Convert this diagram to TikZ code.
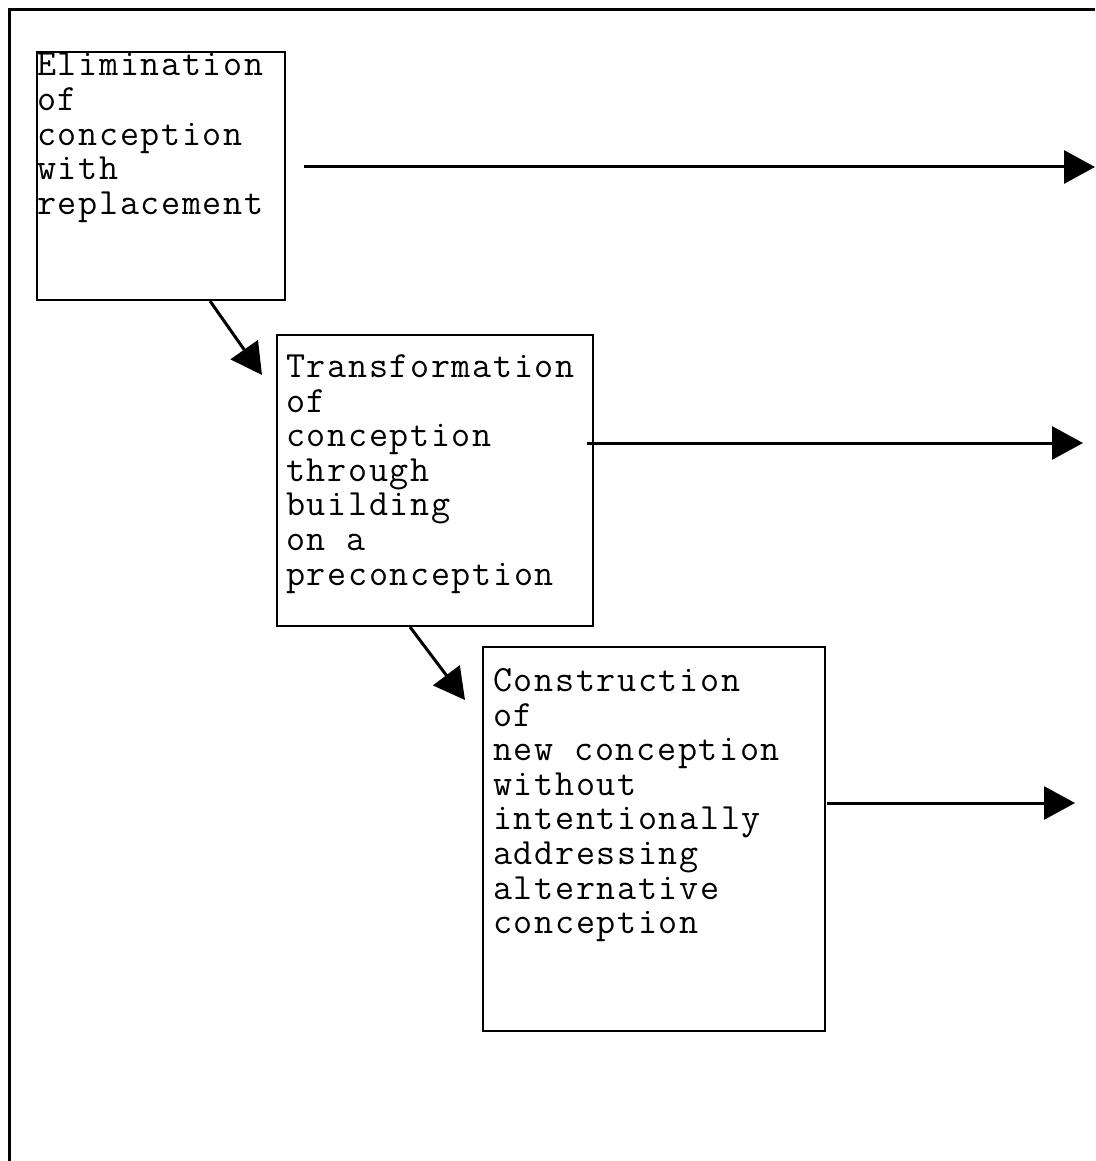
\documentclass[tikz,border=0pt]{standalone}
\usepackage{fontspec}
\setmonofont[LetterSpace=4.5]{Latin Modern Mono}
\usetikzlibrary{arrows.meta,positioning}
\tikzset{
  every picture/.style={draw=black, text=black},
  stagebox/.style={draw, line width=2pt, inner sep=0pt},
  stagetext/.style={anchor=north west, align=left, inner sep=0pt,
    font=\ttfamily\fontsize{37}{34.6}\selectfont},
  flow/.style={line width=3pt, -{Triangle[length=31pt, width=33pt]}},
}

\begin{document}
\begin{tikzpicture}[x=1pt, y=-1pt]
\useasboundingbox (0,0) rectangle (1095,1161);
% outer frame (only left and top edges show)
\draw[line width=3pt] (9.5,1161) -- (9.5,9.5) -- (1095,9.5);
% the three stages
\node[stagebox, minimum width=248pt, minimum height=248pt] (elim) at (161,176) {};
\node[stagebox, minimum width=316pt, minimum height=291pt] (trans) at (435,480.5) {};
\node[stagebox, minimum width=342pt, minimum height=384pt] (constr) at (654,839) {};
\node[stagetext] (elimtxt) at ([shift={(1,0.5)}]elim.north west)
  {\strut Elimination\\of\\conception\\with\\replacement};
\node[stagetext] (transtxt) at ([shift={(10,19)}]trans.north west)
  {\strut Transformation\\of\\conception\\through\\building\\on a\\preconception};
\node[stagetext] (constrtxt) at ([shift={(11,21)}]constr.north west)
  {\strut Construction\\of\\new conception\\without\\intentionally\\addressing\\alternative\\conception};
% free ends of the outgoing arrows
\coordinate (out1) at (1095,167);
\coordinate (out2) at (1083,443);
\coordinate (out3) at (1075,803);
\draw[flow] ([shift={(18,-9)}]elim.east) -- (out1);
\draw[flow] ([shift={(-7,-37.5)}]trans.east) -- (out2);
\draw[flow] ([shift={(1,-36)}]constr.east) -- (out3);
% steps down from one stage to the next
\draw[flow] ([xshift=49pt]elim.south) -- (262,375);
\draw[flow] ([xshift=-25pt]trans.south) -- (465,700);
\end{tikzpicture}
\end{document}
